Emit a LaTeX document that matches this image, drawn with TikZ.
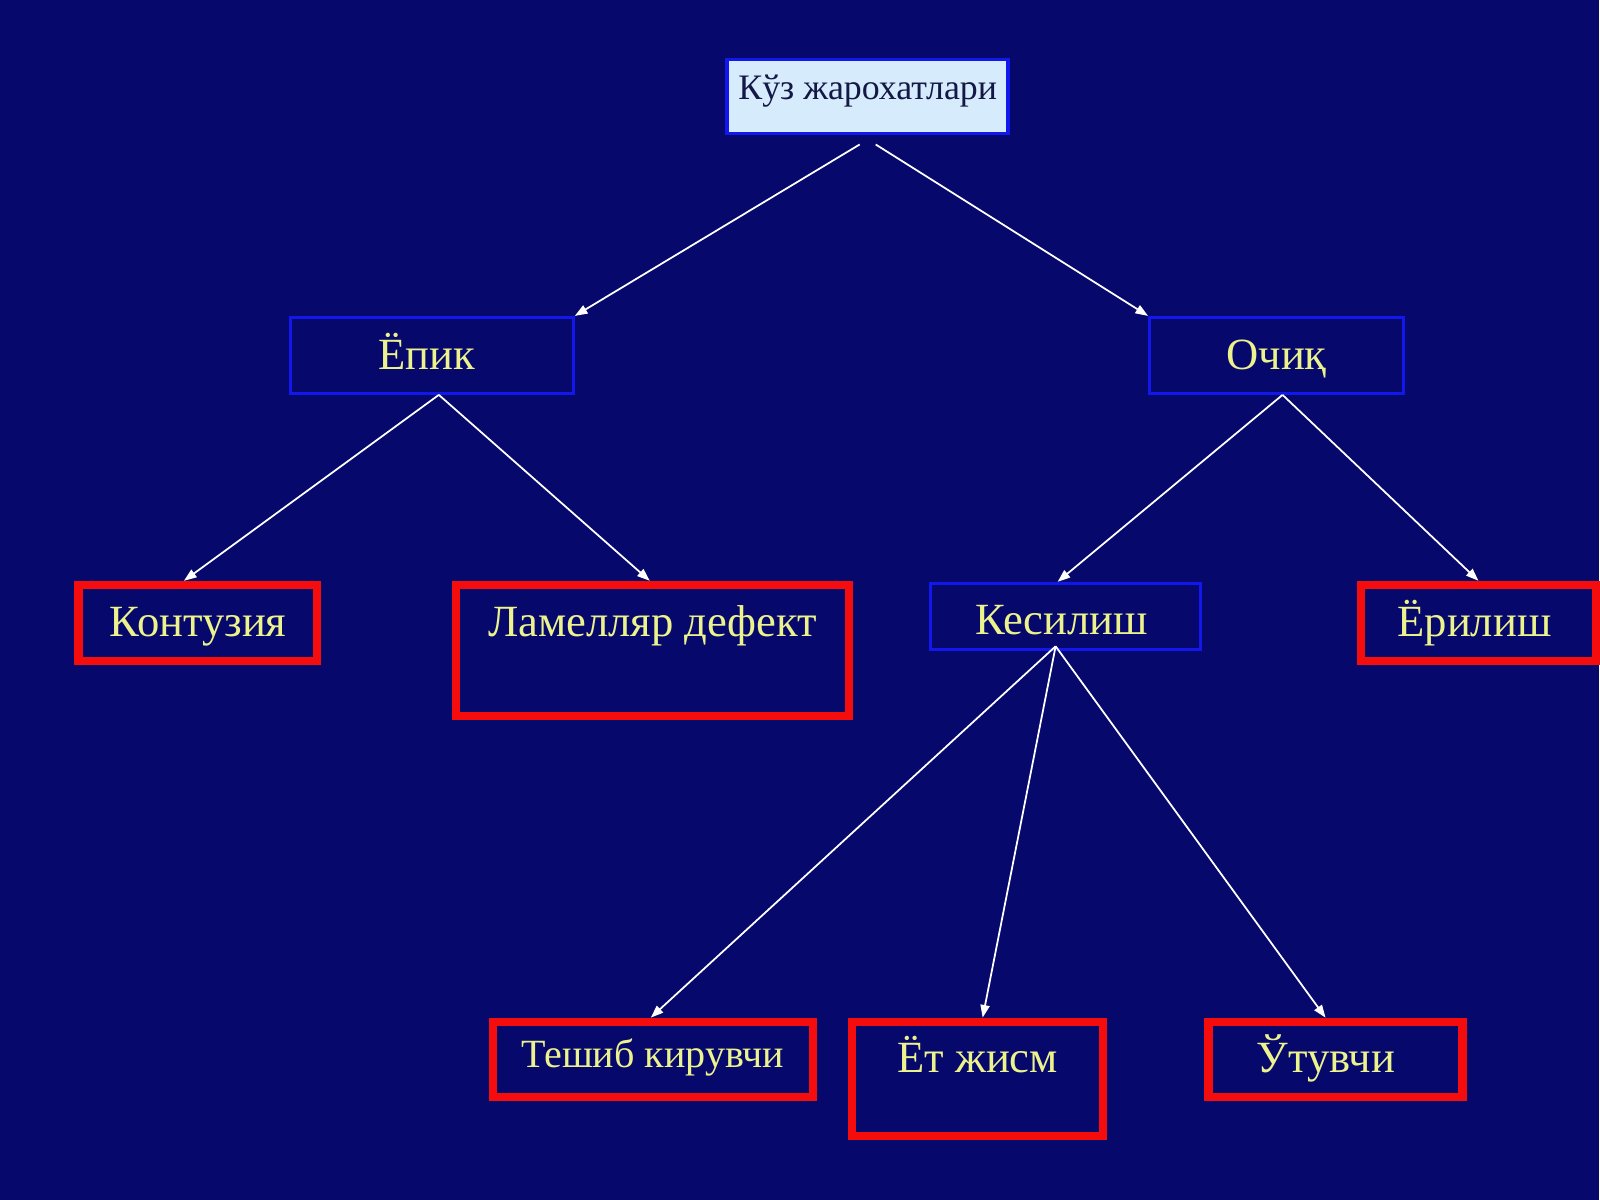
\documentclass[tikz,border=0pt]{standalone}
\usepackage{fontspec}
\setmainfont{Liberation Serif}
\usetikzlibrary{arrows.meta}
\definecolor{slidebg}{RGB}{6,8,108}
\definecolor{boxblue}{RGB}{18,24,235}
\definecolor{boxred}{RGB}{245,12,12}
\definecolor{textyellow}{RGB}{236,242,140}
\definecolor{rootfill}{RGB}{214,236,252}
\definecolor{rootink}{RGB}{20,24,70}
\begin{document}
\begin{tikzpicture}[
  every node/.style={anchor=north, inner xsep=0pt, inner ysep=0pt, align=center},
  bigtext/.style={text=textyellow, font=\fontsize{12.7}{14}\selectfont},
  bluebox/.style={draw=boxblue, line width=0.03cm, bigtext, text height=0.52cm, text depth=0.24cm},
  redbox/.style={draw=boxred, line width=0.082cm, bigtext, text height=0.52cm, text depth=0.24cm},
  link/.style={draw=white, line width=0.5pt, -{Triangle[length=3.6pt,width=2.6pt]}}
]
\fill[slidebg] (0,0) rectangle (16,-12);

\node[draw=boxblue, line width=0.035cm, fill=rootfill, text=rootink,
  font=\fontsize{10.2}{12}\selectfont, minimum width=2.81cm,
  text height=0.40cm, text depth=0.34cm] (root) at (8.68,-0.58) {Кўз жарохатлари};

\node[bluebox, minimum width=2.83cm] (epik) at (4.32,-3.16) {Ёпик\hspace{0.1cm}};
\node[bluebox, minimum width=2.54cm] (ochiq) at (12.77,-3.16) {Очиқ};

\node[redbox, minimum width=2.39cm] (kontuziya) at (1.98,-5.81) {Контузия};
\node[redbox, minimum width=3.93cm, text depth=0.79cm] (lamellar) at (6.53,-5.81) {Ламелляр дефект};
\node[bluebox, minimum width=2.70cm, text height=0.51cm, text depth=0.155cm] (kesilish) at (10.66,-5.82) {Кесилиш\hspace{0.08cm}};
\node[redbox, minimum width=2.35cm] (erilish) at (14.79,-5.81) {Ёрилиш\hspace{0.08cm}};

\node[redbox, minimum width=3.20cm, font=\fontsize{11.4}{13}\selectfont,
  text height=0.46cm, text depth=0.295cm] (teshib) at (6.53,-10.18) {Тешиб кирувчи};
\node[redbox, minimum width=2.51cm, text height=0.51cm, text depth=0.63cm] (etjism) at (9.78,-10.18) {Ёт жисм};
\node[redbox, minimum width=2.54cm, text height=0.51cm, text depth=0.245cm] (utuvchi) at (13.36,-10.18) {Ўтувчи\hspace{0.19cm}};

\draw[link] ([xshift=-0.08cm,yshift=-0.09cm]root.south) -- (epik.north east);
\draw[link] ([xshift=0.08cm,yshift=-0.09cm]root.south) -- (ochiq.north west);

\draw[link] ([xshift=0.07cm]epik.south) -- ([xshift=-0.14cm]kontuziya.north);
\draw[link] ([xshift=0.07cm]epik.south) -- ([xshift=-0.03cm]lamellar.north);
\draw[link] ([xshift=0.06cm]ochiq.south) -- ([xshift=-0.08cm]kesilish.north);
\draw[link] ([xshift=0.06cm]ochiq.south) -- (erilish.north);

\draw[link] ([xshift=-0.10cm,yshift=0.05cm]kesilish.south) -- ([xshift=-0.02cm]teshib.north);
\draw[link] ([xshift=-0.10cm,yshift=0.05cm]kesilish.south) -- ([xshift=0.05cm]etjism.north);
\draw[link] ([xshift=-0.10cm,yshift=0.05cm]kesilish.south) -- ([xshift=-0.10cm]utuvchi.north);
\end{tikzpicture}
\end{document}
